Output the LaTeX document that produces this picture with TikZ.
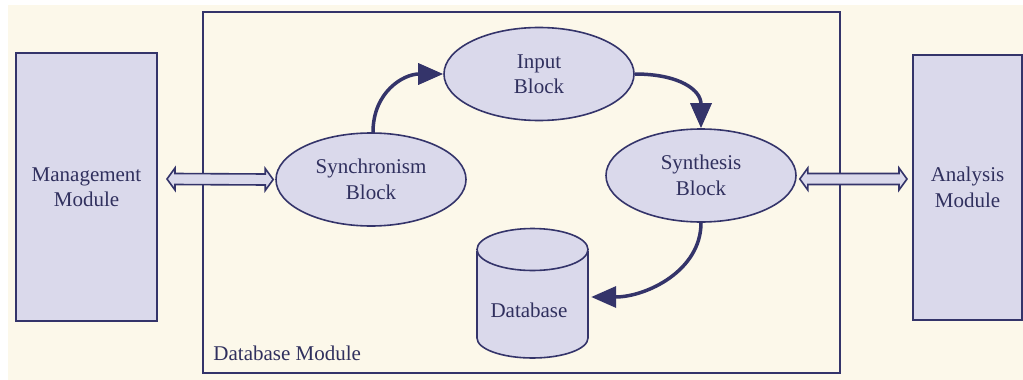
\documentclass[tikz,border=0pt]{standalone}
\usepackage{fontspec}
\setmainfont{Liberation Serif}
\usetikzlibrary{arrows.meta,calc,shapes.geometric}
\definecolor{cream}{HTML}{FCF8EA}
\definecolor{lav}{HTML}{DAD9EB}
\definecolor{navy}{HTML}{34346A}
\definecolor{ink}{HTML}{30305E}
\tikzset{
  txt/.style={text=ink, font=\fontsize{21}{25.5}\selectfont, align=center},
  module/.style={txt, rectangle, draw=navy, line width=2pt, fill=lav, inner sep=0pt},
  frame/.style={rectangle, draw=navy, line width=1.5pt, inner sep=0pt},
  block/.style={txt, ellipse, draw=navy, line width=1.6pt, fill=lav, inner sep=0pt,
    minimum width=190pt, minimum height=93pt},
  flow/.style={draw=navy, line width=3.5pt, -{Triangle[length=25pt,width=21pt]}},
  link/.style={draw=navy, line width=1.6pt, fill=lav, line join=miter},
  drum/.style={draw=navy, line width=1.6pt},
}
% two-headed hollow arrow between two points
\newcommand\twoway[2]{%
  \draw[link] (#1) -- ++(8,-11) -- ++(0,5.5) -- ($(#2)+(-8,-5.5)$) -- ++(0,-5.5)
    -- (#2) -- ++(-8,11) -- ++(0,-5.5) -- ($(#1)+(8,5.5)$) -- ++(0,5.5) -- cycle;}
\begin{document}
\begin{tikzpicture}[x=1pt, y=-1pt]
  % canvas
  \path[use as bounding box, fill=white] (0,0) rectangle (1023,380);
  \fill[cream] (8,5) rectangle (1023,380);

  % outer modules
  \node[module, minimum width=141pt, minimum height=268pt] (mgmt) at (86.5,187) {Management\\Module};
  \node[module, minimum width=109pt, minimum height=265pt] (ana) at (967.5,187.5) {Analysis\\Module};

  % database module frame
  \node[frame, minimum width=637pt, minimum height=361pt] (dbm) at (521.5,192.5) {};
  \node[txt, anchor=base west, inner sep=0pt] (dbmlabel) at ($(dbm.south west)+(11,-13)$) {Database Module};

  % processing blocks
  \node[block] (input) at (539,74) {Input\\Block};
  \node[block] (sync) at (371,179.5) {Synchronism\\Block};
  \node[block] (synth) at (701,175.5) {Synthesis\\Block};

  % database drum
  \node[minimum width=111pt, minimum height=130pt, inner sep=0pt] (db) at (532.5,293) {};
  \begin{scope}[shift={(db.center)}]
    \fill[lav] (-55.5,-43.5) -- (-55.5,45) arc[start angle=180, end angle=0, x radius=55.5, y radius=20]
      -- (55.5,-43.5) -- cycle;
    \draw[drum] (-55.5,-42) -- (-55.5,45) arc[start angle=180, end angle=0, x radius=55.5, y radius=20]
      -- (55.5,-42);
    \draw[drum, fill=lav] (0,-43.5) ellipse[x radius=55.5, y radius=21];
  \end{scope}
  \node[txt, inner sep=0pt] (dblabel) at ($(db.center)+(-3.5,17)$) {Database};

  % data flow between blocks
  \draw[flow] ($(sync.north)+(2,0)$) .. controls +(0,-40) and +(-40,0) .. (input.west);
  \draw[flow] (input.east) .. controls +(45,0) and +(0,-38) .. (synth.north);
  \draw[flow] (synth.south) .. controls +(0,48) and +(55,0) .. ($(db.east)+(3,4)$);

  % links to the outer modules
  \coordinate (la) at ($(mgmt.east)+(9,-8)$);
  \coordinate (lb) at ($(sync.west)+(-2,0)$);
  \coordinate (ra) at ($(synth.east)+(3,3.5)$);
  \coordinate (rb) at ($(ana.west)+(-5,-8.5)$);
  \twoway{la}{lb}
  \twoway{ra}{rb}
\end{tikzpicture}
\end{document}
